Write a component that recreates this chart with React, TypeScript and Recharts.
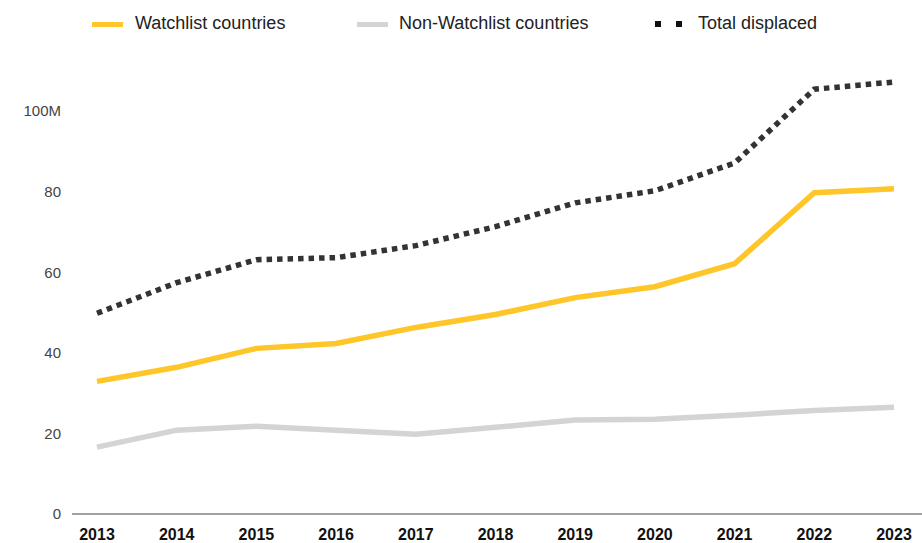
import { LineChart, Line, XAxis, YAxis } from 'recharts'

const years = ['2013', '2014', '2015', '2016', '2017', '2018', '2019', '2020', '2021', '2022', '2023']
const watchlist = [32.9, 36.4, 41.1, 42.3, 46.3, 49.5, 53.7, 56.4, 62.1, 79.7, 80.7]
const nonWatchlist = [16.6, 20.8, 21.8, 20.8, 19.8, 21.5, 23.3, 23.5, 24.5, 25.7, 26.5]
const totalDisplaced = [49.8, 57.4, 63.1, 63.6, 66.6, 71.3, 77.2, 80.2, 87.1, 105.4, 107.2]
const yTicks = [0, 20, 40, 60, 80, 100]

const data = years.map((year, i) => ({
  year,
  watchlist: watchlist[i],
  nonWatchlist: nonWatchlist[i],
  total: totalDisplaced[i],
}))

const YELLOW = '#FFC629'
const GREY = '#D4D4D4'
const DARK = '#333333'
const FONT = '"Liberation Sans", Arial, sans-serif'

const legendText = { fontSize: 18, color: '#222', fontFamily: FONT, whiteSpace: 'nowrap' as const }

function Legend() {
  return (
    <>
      <div style={{ position: 'absolute', left: 92, top: 22, width: 31, height: 5, background: YELLOW }} />
      <div style={{ ...legendText, position: 'absolute', left: 135, top: 13 }}>Watchlist countries</div>
      <div style={{ position: 'absolute', left: 357, top: 22, width: 31, height: 5, background: GREY }} />
      <div style={{ ...legendText, position: 'absolute', left: 399, top: 13 }}>Non-Watchlist countries</div>
      <div style={{ position: 'absolute', left: 655, top: 21, width: 6, height: 6, background: '#111' }} />
      <div style={{ position: 'absolute', left: 676, top: 21, width: 6, height: 6, background: '#111' }} />
      <div style={{ ...legendText, position: 'absolute', left: 698, top: 13 }}>Total displaced</div>
    </>
  )
}

export default function App() {
  return (
    <div style={{ position: 'absolute', left: 0, top: 0, width: 922, height: 543, background: '#fff' }}>
      <Legend />
      <LineChart width={922} height={543} data={data} margin={{ top: 70.7, right: 0, left: 0, bottom: 0 }}>
        <XAxis
          dataKey="year"
          height={29}
          padding={{ left: 25, right: 28 }}
          tickLine={false}
          tickSize={0}
          tickMargin={15}
          axisLine={{ stroke: '#444', strokeWidth: 1 }}
          tick={{ fontSize: 16, fontWeight: 700, fill: '#111', fontFamily: FONT }}
          interval={0}
        />
        <YAxis
          width={72}
          domain={[0, 110]}
          ticks={yTicks}
          axisLine={false}
          tickLine={false}
          tickSize={6}
          tickMargin={5}
          tickFormatter={(v: number) => (v === 100 ? '100M' : String(v))}
          tick={{ fontSize: 15, fill: '#444', fontFamily: FONT }}
        />
        <Line
          type="linear"
          dataKey="nonWatchlist"
          stroke={GREY}
          strokeWidth={5.5}
          dot={false}
          isAnimationActive={false}
        />
        <Line
          type="linear"
          dataKey="watchlist"
          stroke={YELLOW}
          strokeWidth={5.5}
          dot={false}
          isAnimationActive={false}
        />
        <Line
          type="linear"
          dataKey="total"
          stroke={DARK}
          strokeWidth={5.5}
          strokeDasharray="5.5 5"
          dot={false}
          isAnimationActive={false}
        />
      </LineChart>
    </div>
  )
}
